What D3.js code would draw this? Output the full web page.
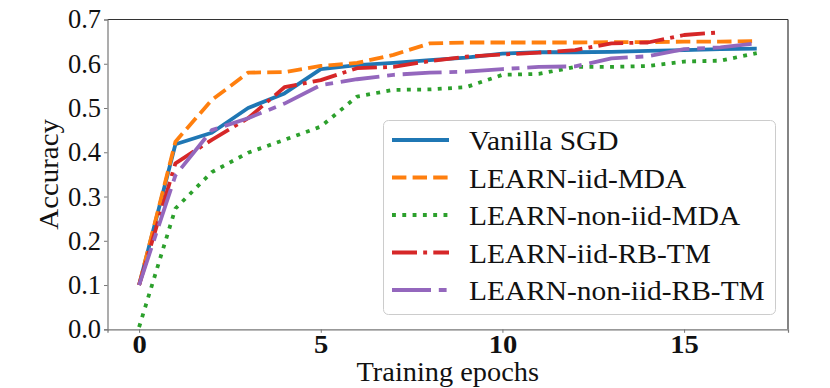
<!DOCTYPE html>
<html>
<head>
<meta charset="utf-8">
<script src="https://cdn.jsdelivr.net/npm/d3@7"></script>
<style>
  body { margin: 0; background: #fff; }
  text { font-family: "Liberation Serif", "DejaVu Serif", serif; fill: #111; }
</style>
</head>
<body>
<svg width="830" height="388"></svg>
<script>
const svg = d3.select("svg");

// Data
const epochs = d3.range(0, 18);
const vanillaSGD   = [0.100, 0.418, 0.444, 0.500, 0.533, 0.588, 0.597, 0.602, 0.608, 0.614, 0.623, 0.626, 0.626, 0.627, 0.629, 0.631, 0.633, 0.634];
const iidMDA       = [0.100, 0.424, 0.518, 0.580, 0.581, 0.595, 0.602, 0.620, 0.646, 0.648, 0.648, 0.648, 0.648, 0.649, 0.649, 0.650, 0.650, 0.651];
const nonIidMDA    = [0.005, 0.273, 0.355, 0.399, 0.428, 0.458, 0.526, 0.541, 0.542, 0.547, 0.575, 0.577, 0.593, 0.593, 0.595, 0.605, 0.607, 0.624];
const iidRBTM      = [0.100, 0.375, 0.428, 0.477, 0.547, 0.563, 0.590, 0.593, 0.606, 0.616, 0.621, 0.625, 0.631, 0.646, 0.648, 0.665, 0.671];
const nonIidRBTM   = [0.100, 0.348, 0.450, 0.477, 0.510, 0.552, 0.565, 0.575, 0.580, 0.582, 0.588, 0.593, 0.594, 0.612, 0.617, 0.633, 0.637, 0.646];

const seriesNames = ["Vanilla SGD", "LEARN-iid-MDA", "LEARN-non-iid-MDA", "LEARN-iid-RB-TM", "LEARN-non-iid-RB-TM"];
const seriesValues = [vanillaSGD, iidMDA, nonIidMDA, iidRBTM, nonIidRBTM];
const colors = ["#1f77b4", "#ff7f0e", "#2ca02c", "#d62728", "#9467bd"];
const dashes = [null, "14.4,6.2", "3.9,6.4", "25,6.2,3.9,6.2", "39,7.8,7.8,7.8"];

const xTicks = [0, 5, 10, 15];
const yTicks = [0, 0.1, 0.2, 0.3, 0.4, 0.5, 0.6, 0.7];

const x = d3.scaleLinear().domain([-0.87, 17.86]).range([107.5, 788]);
const y = d3.scaleLinear().domain([0, 0.7]).range([329.3, 19.5]);

// Liberation Serif is narrower than Computer Modern, stretch words a bit
const stretch = 1.07;

// Lines
const line = d3.line()
  .x((d, i) => x(epochs[i]))
  .y(d => y(d));

svg.append("g")
  .selectAll("path")
  .data(seriesValues)
  .join("path")
  .attr("d", d => line(d))
  .attr("fill", "none")
  .attr("stroke", (d, i) => colors[i])
  .attr("stroke-width", 3.8)
  .attr("stroke-linejoin", "round")
  .attr("stroke-dasharray", (d, i) => dashes[i]);

// Frame
const [x0, x1] = x.range();
const [yb, yt] = y.range();
svg.append("line").attr("x1", x0).attr("x2", x1).attr("y1", yt).attr("y2", yt).attr("stroke", "#333").attr("stroke-width", 1.2);
svg.append("line").attr("x1", x1).attr("x2", x1).attr("y1", yt).attr("y2", yb).attr("stroke", "#333").attr("stroke-width", 1.2);

// Axes
const xAxis = svg.append("g")
  .attr("transform", `translate(0,${yb})`)
  .call(d3.axisBottom(x).tickValues(xTicks).tickSize(3.5).tickPadding(2).tickFormat(d3.format("d")));
xAxis.selectAll("text")
  .attr("font-size", 26)
  .attr("font-weight", "bold")
  .attr("font-family", "Liberation Serif")
  .attr("transform", "scale(1.1,1)");

const yAxis = svg.append("g")
  .attr("transform", `translate(${x0},0)`)
  .call(d3.axisLeft(y).tickValues(yTicks).tickSize(3.5).tickPadding(3).tickFormat(d3.format(".1f")));
yAxis.selectAll("text")
  .attr("font-size", 26.5)
  .attr("font-family", "Liberation Serif");

svg.selectAll(".domain").attr("stroke", "#777").attr("stroke-width", 1.2);
svg.selectAll(".tick line").attr("stroke", "#777");
svg.selectAll(".tick text").attr("fill", "#111");

// Axis labels
svg.append("text")
  .attr("transform", `translate(${(x0 + x1) / 2},381) scale(${stretch},1)`)
  .attr("text-anchor", "middle")
  .attr("font-size", 26.5)
  .text("Training epochs");

svg.append("text")
  .attr("transform", `translate(58,${(yb + yt) / 2}) rotate(-90) scale(${stretch},1)`)
  .attr("text-anchor", "middle")
  .attr("font-size", 27)
  .text("Accuracy");

// Legend
const legend = svg.append("g");
legend.append("rect")
  .attr("x", 383.5).attr("y", 120.5)
  .attr("width", 392).attr("height", 194)
  .attr("rx", 5)
  .attr("fill", "white").attr("fill-opacity", 0.8)
  .attr("stroke", "#ccc");

const items = legend.selectAll("g.item")
  .data(seriesNames)
  .join("g")
  .attr("class", "item")
  .attr("transform", (d, i) => `translate(0,${140 + i * 37.5})`);

items.append("line")
  .attr("x1", 392).attr("x2", 449)
  .attr("stroke", (d, i) => colors[i])
  .attr("stroke-width", 3.8)
  .attr("stroke-dasharray", (d, i) => dashes[i]);

items.append("text")
  .attr("transform", `translate(469,10) scale(${stretch},1)`)
  .attr("font-size", 27.5)
  .text(d => d);
</script>
</body>
</html>
